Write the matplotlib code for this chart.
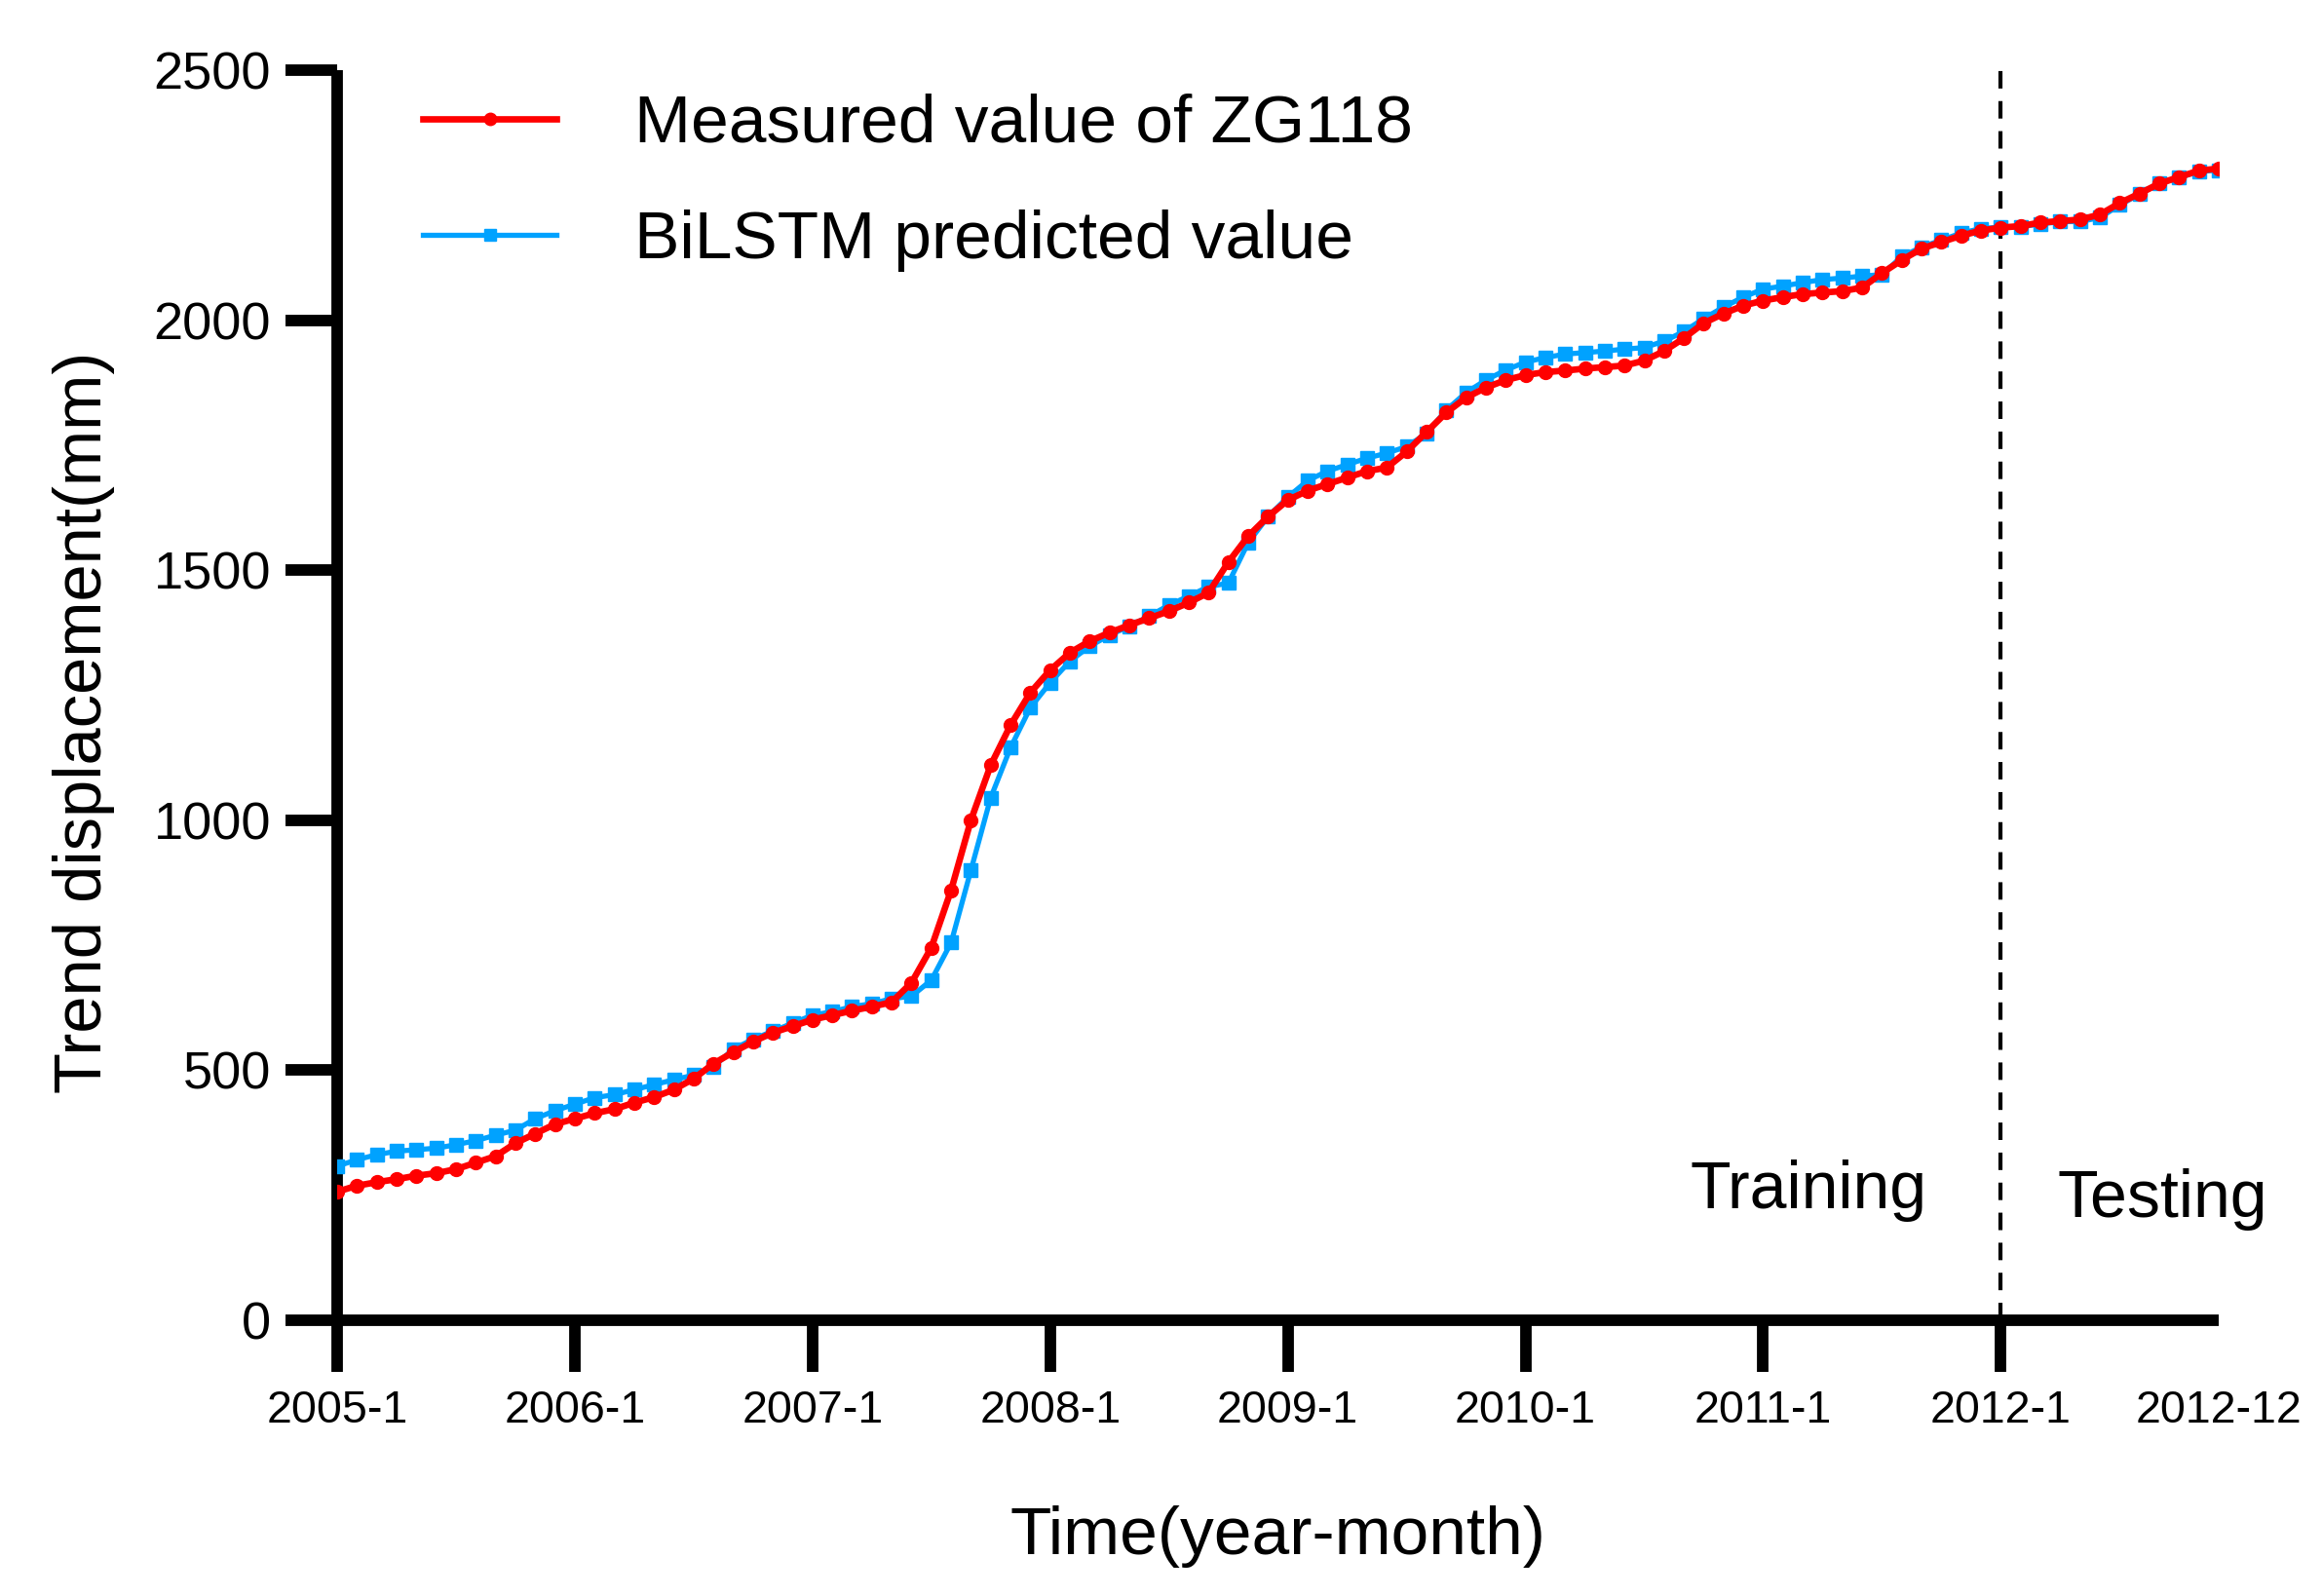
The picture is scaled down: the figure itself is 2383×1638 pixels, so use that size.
import numpy as np
import matplotlib
matplotlib.use("Agg")
import matplotlib.pyplot as plt
from matplotlib import font_manager

# === Data (monthly, 2005-1 .. 2012-12) ===
measured = [257, 269, 276, 282, 289, 294, 302, 315, 328, 354, 373, 392, 403, 414, 422, 435, 446, 461, 483, 513,
            536, 557, 575, 588, 601, 610, 619, 627, 636,
            675, 745, 860, 1000, 1110, 1190, 1255, 1300, 1335, 1358, 1375, 1390, 1404, 1418, 1435, 1455,
            1516, 1568, 1607, 1640, 1659, 1672, 1685, 1698, 1705, 1737, 1776, 1815, 1845, 1865, 1880,
            1890, 1896, 1899, 1903, 1906, 1909, 1919, 1938, 1964, 1994, 2013, 2029, 2039, 2046, 2052, 2055,
            2058, 2065, 2094, 2120, 2143,
            2156, 2169, 2179, 2185, 2188, 2195, 2198, 2201, 2211, 2234, 2253, 2273, 2286, 2299, 2303]
predicted = [308, 321, 331, 338, 341, 344, 351, 359, 370, 380, 403, 419, 432, 445, 451, 461, 471, 481, 490, 507,
             542, 562, 578, 594, 610, 617, 627, 633, 643,
             648, 680, 755, 900, 1045, 1145, 1225, 1275, 1318, 1348, 1370, 1388, 1408, 1430, 1448, 1467,
             1474, 1555, 1607, 1646, 1679, 1698, 1711, 1724, 1734, 1747, 1773, 1820, 1855, 1880, 1900,
             1916, 1925, 1932, 1935, 1938, 1942, 1945, 1958, 1977, 2003, 2026, 2046, 2062, 2068, 2075, 2081,
             2084, 2088, 2091, 2127, 2146,
             2160, 2174, 2183, 2186, 2187, 2192, 2197, 2197, 2205, 2230, 2252, 2273, 2285, 2297, 2300]
months = np.arange(len(measured))
tick_pos = [0, 12, 24, 36, 48, 60, 72, 84, 95]
tick_labels = ["2005-1", "2006-1", "2007-1", "2008-1", "2009-1", "2010-1", "2011-1", "2012-1", "2012-12"]
split_month = 84  # 2012-1

# === Fonts ===
names = {f.name for f in font_manager.fontManager.ttflist}
main_font = "Liberation Sans" if "Liberation Sans" in names else "DejaVu Sans"
if "Liberation Sans Narrow" in names:
    xfont, xsize = "Liberation Sans Narrow", 38
else:
    xfont, xsize = main_font, 33.5
plt.rcParams["font.family"] = [main_font, "DejaVu Sans"]

# === Plot ===
fig = plt.figure(figsize=(23.83, 16.38), dpi=100)
ax = fig.add_axes([0.1452, 0.1728, 0.8103, 0.7833])

ax.plot(months, predicted, color="#00A2FF", lw=3.8, marker="s", ms=10,
        label="BiLSTM predicted value", zorder=3)
ax.plot(months, measured, color="#FF0000", lw=4.8, marker="o", ms=10,
        label="Measured value of ZG118", zorder=4)
ax.axvline(split_month, color="black", lw=3, dashes=(4.3, 3.1), zorder=2)

ax.set_xlim(0, 95)
ax.set_ylim(0, 2500)
ax.set_yticks([0, 500, 1000, 1500, 2000, 2500])
ax.set_xticks(tick_pos)
ax.set_xticklabels(tick_labels, fontfamily=xfont, fontsize=xsize)
ax.xaxis.get_major_ticks()[-1].tick1line.set_visible(False)

for side in ["top", "right"]:
    ax.spines[side].set_visible(False)
for side in ["left", "bottom"]:
    ax.spines[side].set_linewidth(8.5)
    ax.spines[side].set_capstyle("butt")
ax.tick_params(axis="both", width=8.5, length=38, color="black")
ax.tick_params(axis="y", labelsize=39, pad=11)
ax.tick_params(axis="x", pad=13)

ax.set_ylabel("Trend displacement(mm)", fontsize=49.5)
ax.yaxis.set_label_coords(-0.118, 0.478)
ax.set_xlabel("Time(year-month)", fontsize=50, labelpad=54)

ax.text(0.782, 0.1037, "Training", transform=ax.transAxes, fontsize=49, ha="center", va="center")
ax.text(0.970, 0.0966, "Testing", transform=ax.transAxes, fontsize=49, ha="center", va="center")

handles, labels = ax.get_legend_handles_labels()
leg = ax.legend(handles[::-1], labels[::-1], loc="upper left", bbox_to_anchor=(0.0133, 1.03),
                frameon=False, fontsize=50, handlelength=1.97, handletextpad=1.15, labelspacing=0.8,
                markerscale=0.9)

fig.savefig("out.png", dpi=100)
